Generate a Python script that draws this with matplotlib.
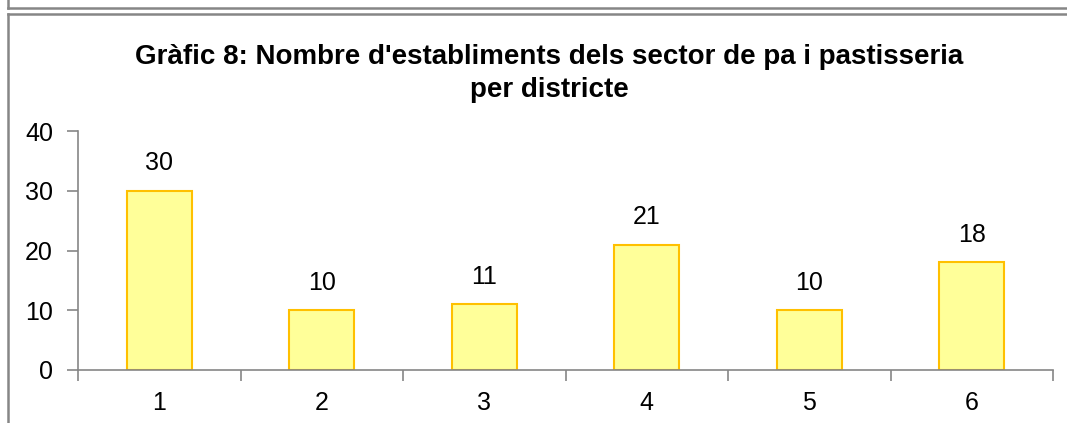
import matplotlib.pyplot as plt
from matplotlib.lines import Line2D

plt.rcParams['font.family'] = ['Liberation Sans', 'DejaVu Sans']

districtes = ['1', '2', '3', '4', '5', '6']
establiments = [30, 10, 11, 21, 10, 18]

fig = plt.figure(figsize=(10.67, 4.23), dpi=100)
ax = fig.add_axes([0.0731, 0.1253, 0.9138, 0.565])

x = range(len(districtes))
bars = ax.bar(x, establiments, width=0.4, color='#FFFF99', edgecolor='#FFC000', linewidth=1.5)
for rect, v in zip(bars, establiments):
    ax.annotate(str(v), (rect.get_x() + rect.get_width() / 2, v), xytext=(0, 11),
                textcoords='offset points', ha='center', va='bottom', fontsize=18)

ax.set_xlim(-0.5, len(districtes) - 0.5)
ax.set_ylim(0, 40)
ax.set_yticks([0, 10, 20, 30, 40])
ax.set_xticks([i + 0.5 for i in range(-1, len(districtes))])
ax.set_xticklabels([])
ax.set_xticks(list(x), minor=True)
ax.set_xticklabels(districtes, minor=True)
ax.tick_params(axis='x', which='minor', length=0, pad=15, labelsize=18)
ax.tick_params(axis='x', which='major', length=8, color='#868686', width=1.2, direction='out')
ax.tick_params(axis='y', length=8, color='#868686', width=1.2, labelsize=18, pad=10)
for s in ['top', 'right']:
    ax.spines[s].set_visible(False)
for s in ['left', 'bottom']:
    ax.spines[s].set_color('#868686')
    ax.spines[s].set_linewidth(1.2)

fig.text(0.5145, 0.826, "Gràfic 8: Nombre d'establiments dels sector de pa i pastisseria\nper districte",
         ha='center', va='center', fontsize=20, fontweight='bold', linespacing=1.32)

# marcs grisos
W, H = 1067, 423
lc = '#868686'
fig.add_artist(Line2D([8 / W, 1], [1 - 8 / H, 1 - 8 / H], color=lc, lw=1.8, transform=fig.transFigure))
fig.add_artist(Line2D([8 / W, 8 / W], [1, 1 - 8 / H], color=lc, lw=1.8, transform=fig.transFigure))
fig.add_artist(Line2D([8 / W, 1], [1 - 14 / H, 1 - 14 / H], color=lc, lw=1.8, transform=fig.transFigure))
fig.add_artist(Line2D([8 / W, 8 / W], [1 - 14 / H, 0], color=lc, lw=1.8, transform=fig.transFigure))

fig.savefig('out.png', dpi=100)
